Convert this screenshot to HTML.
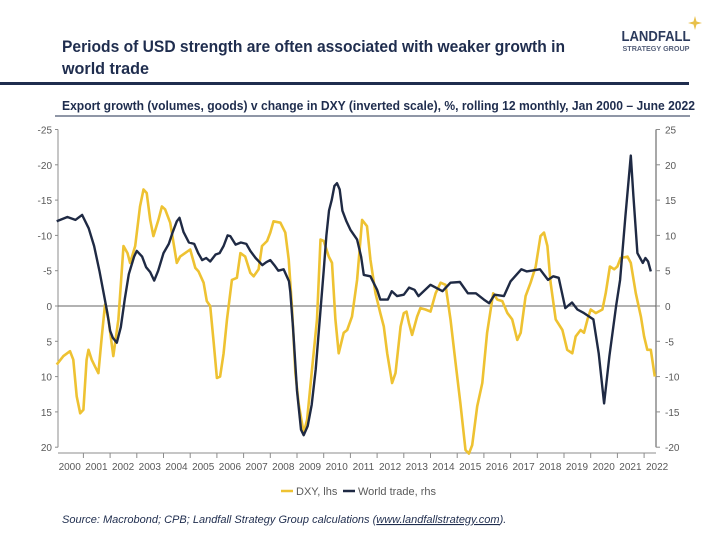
<!DOCTYPE html>
<html><head><meta charset="utf-8">
<style>
body{margin:0;background:#fff;font-family:"Liberation Sans",sans-serif;}
#wrap{position:relative;width:720px;height:540px;overflow:hidden;}
</style></head>
<body>
<div id="wrap">
<svg id="svg" width="720" height="540" xmlns="http://www.w3.org/2000/svg">
  <text x="62" y="52" font-size="17" font-weight="bold" fill="#1f2d4e" textLength="503" lengthAdjust="spacingAndGlyphs">Periods of USD strength are often associated with weaker growth in</text>
  <text x="62" y="74" font-size="17" font-weight="bold" fill="#1f2d4e" textLength="87" lengthAdjust="spacingAndGlyphs">world trade</text>
  <rect x="0" y="82" width="689" height="3" fill="#1f2d4e"/>
  <g>
    <text x="656" y="41" font-size="15" font-weight="bold" text-anchor="middle" fill="#2b3a5c" textLength="69" lengthAdjust="spacingAndGlyphs">LANDFALL</text>
    <text x="656" y="51" font-size="7" font-weight="bold" text-anchor="middle" fill="#55607a" textLength="67" lengthAdjust="spacingAndGlyphs">STRATEGY GROUP</text>
    <path d="M695 16 L696.5 21.5 L702 23 L696.5 24.5 L695 30 L693.5 24.5 L688 23 L693.5 21.5 Z" fill="#e8c04a"/>
  </g>
  <text x="62" y="110" font-size="12.5" font-weight="bold" fill="#1f2d4e" textLength="633" lengthAdjust="spacingAndGlyphs">Export growth (volumes, goods) v change in DXY (inverted scale), %, rolling 12 monthly, Jan 2000 – June 2022</text>
  <line x1="55" y1="116" x2="690" y2="116" stroke="#1f2d4e" stroke-width="1"/>
  <g id="axes"></g>
  <g id="series"></g>
  <g>
    <line x1="281" y1="491" x2="293" y2="491" stroke="#eec232" stroke-width="2.5"/>
    <text x="296" y="495" font-size="11" fill="#595959">DXY, lhs</text>
    <line x1="343" y1="491" x2="355" y2="491" stroke="#1f2a44" stroke-width="2.5"/>
    <text x="358" y="495" font-size="11" fill="#595959">World trade, rhs</text>
  </g>
  <text x="62" y="523" font-size="11" font-style="italic" fill="#1f2d4e">Source: Macrobond; CPB; Landfall Strategy Group calculations (<tspan text-decoration="underline">www.landfallstrategy.com</tspan>).</text>
</svg>
</div>
<script>
const yearLabels=["2000","2001","2002","2003","2004","2005","2006","2007","2008","2009","2010","2011","2012","2013","2014","2015","2016","2017","2018","2019","2020","2021","2022"];
const leftTicks=[-25,-20,-15,-10,-5,0,5,10,15,20];
const rightTicks=[25,20,15,10,5,0,-5,-10,-15,-20];
const tradeT=[0,0.4,0.7,0.95,1.2,1.4,1.6,1.75,1.9,2.0,2.1,2.25,2.4,2.55,2.7,2.9,3.0,3.2,3.35,3.5,3.65,3.8,4.0,4.2,4.35,4.5,4.6,4.75,4.95,5.15,5.3,5.45,5.6,5.75,5.95,6.1,6.25,6.4,6.5,6.7,6.9,7.1,7.25,7.45,7.7,7.85,8.0,8.15,8.3,8.5,8.7,8.75,8.85,9.0,9.15,9.25,9.4,9.55,9.7,9.85,10.0,10.1,10.2,10.3,10.4,10.5,10.6,10.7,10.85,11.0,11.25,11.4,11.5,11.75,12.0,12.12,12.4,12.55,12.75,13.0,13.2,13.4,13.55,14.0,14.45,14.75,15.1,15.4,15.7,16.0,16.2,16.4,16.75,17.0,17.4,17.6,18.1,18.4,18.6,18.8,19.05,19.3,19.5,19.75,20.1,20.3,20.5,20.7,20.95,21.1,21.3,21.5,21.6,21.75,21.95,22.05,22.15,22.25];
const tradeV=[12,12.6,12.2,12.9,11,8.5,5,2,-1,-3.5,-4.5,-5.2,-3,1,4.5,7,7.8,7,5.5,4.8,3.6,5,7.5,8.8,10.5,12,12.5,10.5,9,8.8,7.5,6.5,6.8,6.3,7.3,7.5,8.5,10,9.9,8.7,9,8.8,7.8,6.8,5.8,6.2,6.5,5.8,5,5.2,3.5,2,-3,-12,-17.5,-18.3,-17,-14,-9,-2,5,10,13.5,15,17,17.4,16.5,13.5,12,10.8,9.4,7,4.4,4.2,2.3,0.9,0.9,2.1,1.4,1.6,2.6,2.3,1.4,3.0,2.1,3.3,3.4,1.8,1.8,0.9,0.4,1.6,1.4,3.5,5.2,4.9,5.2,3.7,4.2,4.0,-0.3,0.5,-0.5,-1.0,-1.9,-6.7,-13.8,-7.1,0,3.7,12.7,21.3,15.6,7.5,6.1,6.8,6.3,4.9];
const dxyT=[0,0.25,0.5,0.62,0.75,0.88,1.0,1.12,1.19,1.31,1.44,1.56,1.69,1.81,1.94,2.12,2.31,2.5,2.65,2.75,2.94,3.12,3.25,3.37,3.5,3.62,3.81,3.94,4.06,4.25,4.5,4.62,4.81,5.0,5.19,5.31,5.5,5.62,5.75,5.88,6.0,6.12,6.25,6.38,6.56,6.75,6.88,7.06,7.25,7.38,7.56,7.69,7.88,8.0,8.12,8.38,8.56,8.69,8.81,8.94,9.06,9.25,9.38,9.56,9.75,9.88,10.0,10.19,10.31,10.44,10.56,10.75,10.88,11.06,11.25,11.44,11.62,11.75,11.94,12.12,12.25,12.38,12.56,12.69,12.88,13.0,13.1,13.19,13.31,13.5,13.62,13.81,14.0,14.19,14.38,14.56,14.75,14.94,15.12,15.31,15.44,15.56,15.75,15.94,16.12,16.35,16.5,16.69,16.88,17.06,17.25,17.38,17.56,17.75,17.94,18.12,18.25,18.38,18.5,18.69,18.94,19.12,19.31,19.44,19.62,19.75,19.88,20.0,20.19,20.44,20.56,20.72,20.88,21.0,21.12,21.38,21.5,21.69,21.88,22.0,22.12,22.25,22.4];
const dxyV=[8.3,7.1,6.4,7.6,12.8,15.2,14.7,7.6,6.2,7.6,8.6,9.5,4.3,-0.2,1.9,7.1,1.9,-8.5,-7.5,-6.1,-8.5,-14.1,-16.5,-16.0,-12.2,-9.9,-12.2,-14.1,-13.7,-11.8,-6.1,-7.0,-7.5,-8.0,-5.4,-4.9,-3.3,-0.7,0,5.2,10.2,10.0,6.7,1.9,-3.7,-4.0,-7.5,-7.0,-4.7,-4.2,-5.2,-8.5,-9.2,-10.4,-12.0,-11.8,-10.4,-6.6,0,9.5,13.8,18.0,16.1,9.0,1.9,-9.4,-9.2,-7.0,-6.1,1.9,6.7,3.8,3.4,1.5,-3.7,-12.2,-11.3,-6.6,-1.8,1.0,2.9,6.7,10.9,9.5,2.9,1.0,0.8,2.4,4.1,1.5,0.3,0.5,0.8,-1.8,-3.3,-3.0,1.9,8.1,13.8,20.4,20.9,19.7,14.2,10.9,3.8,-1.8,-0.9,-0.7,1.0,1.9,4.8,3.8,-1.4,-3.3,-5.6,-9.9,-10.4,-8.5,-3.3,1.9,3.4,6.2,6.7,4.3,3.4,3.8,1.9,0.5,1.0,0.5,-1.8,-5.6,-5.2,-5.6,-6.8,-7.0,-6.1,-1.8,1.5,4.3,6.2,6.2,10.0];

const NS='http://www.w3.org/2000/svg';
const X0=56.7, PXY=26.7, Y0=306, PXU=7.06;
function xS(t){return X0+t*PXY;}
function yL(v){return Y0+v*PXU;}
function yR(v){return Y0-v*PXU;}
function mk(tag,attrs,parent){const e=document.createElementNS(NS,tag);for(const k in attrs)e.setAttribute(k,attrs[k]);parent.appendChild(e);return e;}
const axes=document.getElementById('axes'), ser=document.getElementById('series');
const GREY='#8c8c8c', TXT='#595959';
let e;
e=mk('line',{x1:58,y1:yL(-25),x2:58,y2:yL(20),stroke:GREY,'stroke-width':1},axes);


e=mk('line',{x1:656,y1:yR(25),x2:656,y2:yR(-20),stroke:GREY,'stroke-width':1.5},axes);


e=mk('line',{x1:58,y1:453,x2:656,y2:453,stroke:GREY,'stroke-width':1},axes);


e=mk('line',{x1:58,y1:yL(0),x2:656,y2:yL(0),stroke:'#666','stroke-width':1},axes);


leftTicks.forEach(v=>{
  const y=yL(v);
  mk('line',{x1:55,y1:y,x2:58,y2:y,stroke:GREY},axes);
  e=mk('text',{x:52,y:y+4,'font-size':10,'text-anchor':'end',fill:TXT},axes);
  e.textContent=String(v);
  
  
});
rightTicks.forEach(v=>{
  const y=yR(v);
  mk('line',{x1:656,y1:y,x2:660,y2:y,stroke:GREY},axes);
  e=mk('text',{x:665,y:y+4,'font-size':10,fill:TXT},axes);
  e.textContent=String(v);
  
  
});
yearLabels.forEach((lab,i)=>{
  if(i>0) mk('line',{x1:xS(i),y1:453,x2:xS(i),y2:458,stroke:GREY},axes);
  e=mk('text',{x:Math.min(xS(i+0.5),xS(i)+13),y:470,'font-size':10,'text-anchor':'middle',fill:TXT},axes);
  e.textContent=lab;
  
  
});
function path(ts,vs,yf){return ts.map((t,i)=>(i?'L':'M')+xS(t).toFixed(1)+' '+yf(vs[i]).toFixed(1)).join(' ');}
e=mk('path',{d:path(dxyT,dxyV,yL),fill:'none',stroke:'#eec232','stroke-width':2.6,'stroke-linejoin':'round'},ser);


e=mk('path',{d:path(tradeT,tradeV,yR),fill:'none',stroke:'#1f2a44','stroke-width':2.4,'stroke-linejoin':'round'},ser);


</script>
</body></html>
